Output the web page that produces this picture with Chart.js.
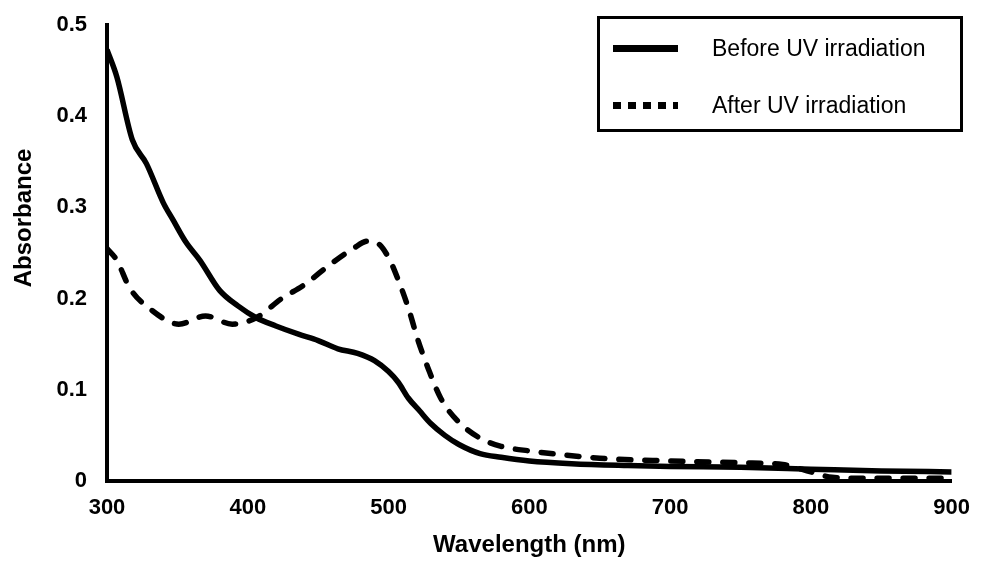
<!DOCTYPE html>
<html>
<head>
<meta charset="utf-8">
<script src="https://cdn.jsdelivr.net/npm/chart.js@4.4.1/dist/chart.umd.min.js"></script>
<style>
    html, body { margin: 0; padding: 0; background: #fff; }
    #wrap { width: 984px; height: 561px; }
</style>
</head>
<body>
<div id="wrap"><canvas id="uvChart" width="984" height="561"></canvas></div>
<script>
// wavelength (nm) / absorbance
const beforeWavelengths = [300, 307, 318, 328, 340, 347, 356, 366, 380, 393, 406, 420, 436, 450, 464, 478, 490, 500, 507, 514, 522, 530, 540, 550, 565, 580, 600, 630, 670, 700, 750, 800, 850, 900];
const beforeAbsorbance = [0.473, 0.443, 0.374, 0.348, 0.305, 0.286, 0.262, 0.242, 0.209, 0.192, 0.179, 0.17, 0.161, 0.154, 0.145, 0.14, 0.132, 0.12, 0.108, 0.091, 0.077, 0.063, 0.05, 0.04, 0.03, 0.026, 0.022, 0.019, 0.017, 0.016, 0.015, 0.013, 0.011, 0.01];

const afterWavelengths = [300, 307, 316, 332, 351, 370, 389, 406, 424, 440, 459, 475, 485, 492, 500, 507, 514, 521, 528, 537, 549, 565, 580, 600, 650, 700, 750, 780, 800, 815, 840, 900];
const afterAbsorbance = [0.255, 0.242, 0.212, 0.187, 0.172, 0.181, 0.172, 0.179, 0.2, 0.215, 0.238, 0.255, 0.263, 0.261, 0.245, 0.22, 0.19, 0.154, 0.124, 0.091, 0.066, 0.047, 0.038, 0.033, 0.025, 0.022, 0.02, 0.018, 0.01, 0.004, 0.003, 0.003];

const seriesLabels = ['Before UV irradiation', 'After UV irradiation'];
const xTicks = [300, 400, 500, 600, 700, 800, 900];
const yTicks = [0, 0.1, 0.2, 0.3, 0.4, 0.5];

const toPoints = (xs, ys) => xs.map((x, i) => ({ x: x, y: ys[i] }));

// legend box drawn inside the plot, plus the y title (it sits above centre)
const boxLegend = {
    id: 'boxLegend',
    afterDraw(chart) {
        const ctx = chart.ctx;
        ctx.save();

        ctx.fillStyle = '#000';
        ctx.font = 'bold 24px "Liberation Sans", Arial, sans-serif';
        ctx.textAlign = 'center';
        ctx.textBaseline = 'middle';
        ctx.translate(24, 218);
        ctx.rotate(-Math.PI / 2);
        ctx.fillText('Absorbance', 0, 0);
        ctx.restore();

        ctx.save();
        ctx.strokeStyle = '#000';
        ctx.lineWidth = 3;
        ctx.strokeRect(598.5, 17.5, 363, 113);

        const rows = [48.5, 105.5];
        chart.data.datasets.forEach((ds, i) => {
            const y = rows[i];
            ctx.beginPath();
            ctx.lineWidth = 7;
            ctx.lineCap = 'butt';
            ctx.setLineDash(i === 0 ? [] : [8, 7]);
            ctx.moveTo(613, y);
            ctx.lineTo(678, y);
            ctx.stroke();
            ctx.setLineDash([]);

            ctx.fillStyle = '#000';
            ctx.font = '23px "Liberation Sans", Arial, sans-serif';
            ctx.textAlign = 'left';
            ctx.textBaseline = 'middle';
            ctx.fillText(ds.label, 712, y + 1.5);
        });
        ctx.restore();
    }
};

const tickFont = { family: '"Liberation Sans", Arial, sans-serif', size: 22, weight: 'bold' };

new Chart(document.getElementById('uvChart').getContext('2d'), {
    type: 'line',
    data: {
        datasets: [
            {
                label: seriesLabels[0],
                data: toPoints(beforeWavelengths, beforeAbsorbance),
                borderColor: '#000',
                borderWidth: 5.5,
                pointRadius: 0,
                cubicInterpolationMode: 'monotone',
                fill: false
            },
            {
                label: seriesLabels[1],
                data: toPoints(afterWavelengths, afterAbsorbance),
                borderColor: '#000',
                borderWidth: 5.5,
                borderDash: [12, 14],
                borderCapStyle: 'round',
                pointRadius: 0,
                cubicInterpolationMode: 'monotone',
                fill: false
            }
        ]
    },
    options: {
        responsive: false,
        animation: false,
        layout: { padding: { top: 25, right: 26, left: 0, bottom: 0 } },
        plugins: {
            legend: { display: false },
            tooltip: { enabled: false }
        },
        scales: {
            x: {
                type: 'linear',
                min: xTicks[0],
                max: xTicks[xTicks.length - 1],
                afterBuildTicks: (scale) => { scale.ticks = xTicks.map(v => ({ value: v })); },
                afterFit: (scale) => { scale.height = 80; },
                grid: { display: false, drawTicks: false },
                border: { display: true, color: '#000', width: 4 },
                ticks: { color: '#000', font: tickFont, padding: 14, maxRotation: 0 },
                title: {
                    display: true,
                    text: 'Wavelength (nm)',
                    color: '#000',
                    font: { family: '"Liberation Sans", Arial, sans-serif', size: 24, weight: 'bold' },
                    padding: { top: 0, bottom: 1 }
                }
            },
            y: {
                min: yTicks[0],
                max: yTicks[yTicks.length - 1],
                afterBuildTicks: (scale) => { scale.ticks = yTicks.map(v => ({ value: v })); },
                afterFit: (scale) => {
                    scale.width = 107;
                    scale.paddingTop = 0;
                    scale.paddingBottom = 0;
                },
                grid: { display: false, drawTicks: false },
                border: { display: true, color: '#000', width: 4 },
                ticks: {
                    color: '#000',
                    font: tickFont,
                    padding: 20,
                    callback: (value) => value === 0 ? '0' : value.toFixed(1)
                }
            }
        }
    },
    plugins: [boxLegend]
});
</script>
</body>
</html>
